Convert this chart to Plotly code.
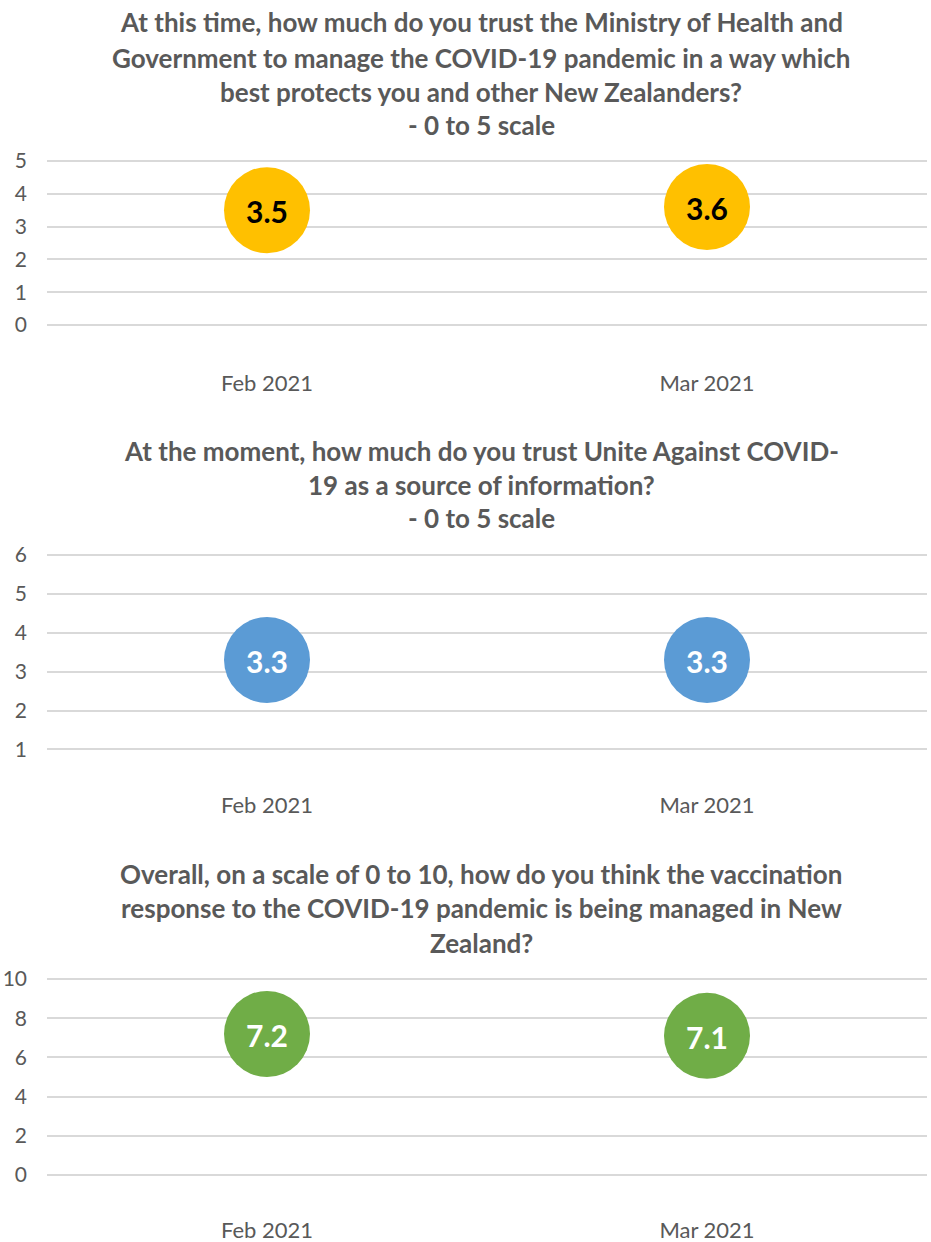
import plotly.graph_objects as go

categories = ["Feb 2021", "Mar 2021"]
trust_moh = [3.5, 3.6]
trust_unite = [3.3, 3.3]
vacc_response = [7.2, 7.1]

titles = [
    ["At this time, how much do you trust the Ministry of Health and",
     "Government to manage the COVID-19 pandemic in a way which",
     "best protects you and other New Zealanders?",
     "- 0 to 5 scale"],
    ["At the moment, how much do you trust Unite Against COVID-",
     "19 as a source of information?",
     "- 0 to 5 scale"],
    ["Overall, on a scale of 0 to 10, how do you think the vaccination",
     "response to the COVID-19 pandemic is being managed in New",
     "Zealand?"],
]
title_line_px = [[22, 58, 92, 125], [451, 485, 518], [874, 908, 943]]

W, H = 931, 1242
FONT = "Lato"
GREY = "#595959"

series = [trust_moh, trust_unite, vacc_response]
colors = ["#FFC000", "#5B9BD5", "#70AD47"]
text_colors = ["#000000", "#FFFFFF", "#FFFFFF"]
yranges = [[-0.2, 5.2], [0.8, 6.2], [-0.4, 10.4]]
ydtick = [1, 1, 2]
ydomains_px = [(154.4, 331.6), (547.2, 757.2), (971.2, 1182.8)]
xstandoff = [36, 33, 32]

fig = go.Figure()
for i in range(3):
    xa = "x" if i == 0 else f"x{i+1}"
    ya = "y" if i == 0 else f"y{i+1}"
    fig.add_trace(go.Scatter(
        x=categories, y=series[i], xaxis=xa, yaxis=ya,
        mode="markers",
        marker=dict(size=86, color=colors[i], line=dict(width=0)),
        cliponaxis=False, showlegend=False, hoverinfo="skip",
    ))
    for c, v in zip(categories, series[i]):
        fig.add_annotation(
            x=c, y=v, xref=xa, yref=ya, text=f"{v:.1f}", showarrow=False,
            xanchor="center", yanchor="middle", yshift=-1,
            font=dict(family=FONT, size=30, color=text_colors[i], weight="bold"),
        )
    top, bot = ydomains_px[i]
    key = "" if i == 0 else str(i + 1)
    fig.layout["yaxis" + key] = dict(
        domain=[1 - bot / H, 1 - top / H], range=yranges[i], dtick=ydtick[i],
        tick0=0, anchor=xa, showgrid=True, gridcolor="#D9D9D9", gridwidth=1.5,
        zeroline=False, showline=False, ticks="", ticklabelstandoff=19,
        automargin=False,
        tickfont=dict(family=FONT, size=21, color=GREY), fixedrange=True,
    )
    fig.layout["xaxis" + key] = dict(
        domain=[47 / W, 927 / W], range=[-0.5, 1.5], anchor=ya,
        showgrid=False, zeroline=False, showline=False, ticks="",
        type="category", ticklabelstandoff=xstandoff[i], automargin=False,
        tickfont=dict(family=FONT, size=22, color=GREY), fixedrange=True,
    )
    for line, py in zip(titles[i], title_line_px[i]):
        fig.add_annotation(
            text=line, xref="paper", yref="paper", x=481 / W, y=1 - py / H,
            xanchor="center", yanchor="middle", showarrow=False,
            font=dict(family=FONT, size=26, color=GREY, weight="bold"),
        )

fig.update_layout(
    width=W, height=H, margin=dict(l=0, r=0, t=0, b=0, autoexpand=False),
    paper_bgcolor="white", plot_bgcolor="white",
)
fig.write_html(
    "out.html",
    config={"displayModeBar": False},
    post_script="document.body.style.margin='0';document.body.style.overflow='hidden';",
)
